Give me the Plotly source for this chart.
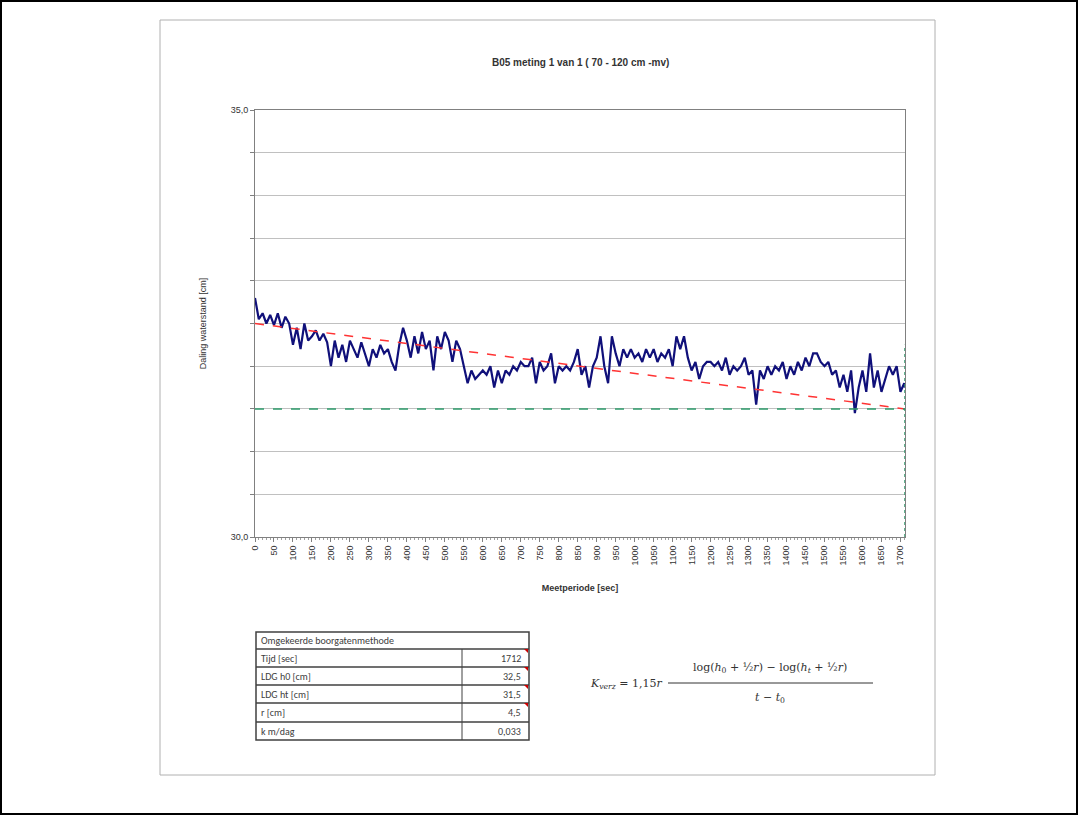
import plotly.graph_objects as go

# meetreeks (tijd in sec, daling waterstand in cm)
tijd = list(range(0, 1711, 10)) + [1712]
daling = [
    32.8, 32.55, 32.62, 32.5, 32.6, 32.48, 32.62, 32.45, 32.58, 32.5,
    32.25, 32.45, 32.2, 32.5, 32.3, 32.35, 32.42, 32.3, 32.38, 32.28,
    32.0, 32.3, 32.1, 32.25, 32.05, 32.3, 32.2, 32.1, 32.28, 32.15,
    32.0, 32.2, 32.1, 32.25, 32.15, 32.2, 32.05, 31.95, 32.25, 32.45,
    32.3, 32.1, 32.35, 32.15, 32.4, 32.2, 32.3, 31.95, 32.35, 32.2,
    32.4, 32.3, 32.05, 32.3, 32.2, 32.0, 31.8, 31.95, 31.85, 31.9,
    31.95, 31.9, 32.0, 31.75, 31.95, 31.8, 31.95, 31.9, 32.0, 31.95,
    32.05, 32.0, 32.0, 32.1, 31.8, 32.05, 31.95, 32.0, 32.15, 31.8,
    32.0, 31.95, 32.0, 31.95, 32.05, 32.2, 31.9, 32.0, 31.75, 32.0,
    32.1, 32.35, 32.0, 31.8, 32.35, 32.15, 32.0, 32.2, 32.1, 32.2,
    32.1, 32.15, 32.05, 32.2, 32.1, 32.2, 32.05, 32.15, 32.1, 32.2,
    32.0, 32.35, 32.2, 32.35, 32.1, 31.95, 32.05, 31.85, 32.0, 32.05,
    32.05, 32.0, 32.05, 31.95, 32.1, 31.9, 32.0, 31.95, 32.0, 32.1,
    31.9, 31.95, 31.55, 31.95, 31.85, 32.0, 31.9, 32.0, 31.95, 32.05,
    31.85, 32.0, 31.9, 32.05, 31.95, 32.1, 32.0, 32.15, 32.15, 32.05,
    32.0, 32.05, 31.9, 31.95, 31.75, 31.9, 31.7, 31.95, 31.45, 31.75,
    31.95, 31.7, 32.15, 31.75, 31.95, 31.7, 31.85, 32.0, 31.9, 32.0,
    31.7, 31.8, 31.75,
]

t_eind = 1712
h0 = 32.5
ht = 31.5
ymax_vert = 32.25

x_ticks = list(range(0, 1701, 50))
y_ticks = [30, 35]
y_ticktext = ["30,0", "35,0"]

tabel_labels = ["Tijd [sec]", "LDG h0 [cm]", "LDG ht [cm]", "r [cm]", "k m/dag"]
tabel_waarden = ["1712", "32,5", "31,5", "4,5", "0,033"]

W, H = 1079, 816
L, R, T, B = 255, 905, 110, 537


def fx(px):
    return (px - L) / (R - L)


def fy(py):
    return (B - py) / (B - T)


fig = go.Figure()

fig.add_trace(go.Scatter(x=tijd, y=daling, mode='lines',
                         line=dict(color='#10107a', width=2.2)))
fig.add_trace(go.Scatter(x=[0, t_eind], y=[h0, ht], mode='lines',
                         line=dict(color='#ff3333', width=1.5, dash='dash')))
fig.add_trace(go.Scatter(x=[0, t_eind], y=[ht, ht], mode='lines',
                         line=dict(color='#2e9b6b', width=1.5, dash='dash')))
fig.add_trace(go.Scatter(x=[t_eind, t_eind], y=[30, ymax_vert], mode='lines',
                         line=dict(color='#2e9b6b', width=1.5, dash='dot')))

font = 'Liberation Sans, Arial, sans-serif'

fig.update_xaxes(range=[0, t_eind], tickvals=x_ticks, tickangle=-90,
                 ticks='outside', ticklen=4, tickcolor='#808080',
                 minor=dict(dtick=10, ticks='outside', ticklen=2, tickcolor='#a0a0a0'),
                 showgrid=False, zeroline=False, showline=True, linecolor='#808080',
                 mirror=True, tickfont=dict(size=9, color='#333333', family=font),
                 title=dict(text='<b>Meetperiode [sec]</b>', standoff=20,
                            font=dict(size=9, color='#333333', family=font)))
fig.update_yaxes(range=[30, 35], tickvals=y_ticks, ticktext=y_ticktext,
                 ticks='outside', ticklen=4, tickcolor='#808080',
                 minor=dict(dtick=0.5, ticks='outside', ticklen=4, tickcolor='#808080',
                            showgrid=True, gridcolor='#c0c0c0', gridwidth=1),
                 showgrid=True, gridcolor='#c0c0c0', zeroline=False, showline=True,
                 linecolor='#808080', mirror=True,
                 tickfont=dict(size=9, color='#333333', family=font),
                 title=dict(text='Daling waterstand [cm]', standoff=22,
                            font=dict(size=9, color='#333333', family=font)))

shapes = []
# buitenkader en grafiekkader
shapes.append(dict(type='rect', xref='paper', yref='paper', x0=fx(1), x1=fx(1077), y0=fy(1), y1=fy(814),
                   line=dict(color='#000000', width=2)))
shapes.append(dict(type='rect', xref='paper', yref='paper', x0=fx(160), x1=fx(935), y0=fy(20), y1=fy(775),
                   line=dict(color='#b0b0b0', width=1)))

# tabel
tx0, tx1, tx2 = 256, 462, 529
rows = [632, 649, 667, 685, 703, 722, 740]
shapes.append(dict(type='rect', xref='paper', yref='paper', x0=fx(tx0), x1=fx(tx2),
                   y0=fy(rows[0]), y1=fy(rows[-1]), line=dict(color='#404040', width=1.5)))
for r in rows[1:-1]:
    shapes.append(dict(type='line', xref='paper', yref='paper', x0=fx(tx0), x1=fx(tx2),
                       y0=fy(r), y1=fy(r), line=dict(color='#404040', width=1.5)))
shapes.append(dict(type='line', xref='paper', yref='paper', x0=fx(tx1), x1=fx(tx1),
                   y0=fy(rows[1]), y1=fy(rows[-1]), line=dict(color='#404040', width=1)))
for r in rows[1:5]:
    px, py = tx2 - 1, r
    shapes.append(dict(type='path', xref='paper', yref='paper',
                       path='M {} {} L {} {} L {} {} Z'.format(fx(px - 4), fy(py), fx(px), fy(py), fx(px), fy(py + 4)),
                       fillcolor='#cc0000', line=dict(color='#cc0000', width=0)))

# breukstreep formule
shapes.append(dict(type='line', xref='paper', yref='paper', x0=fx(668), x1=fx(873),
                   y0=fy(683), y1=fy(683), line=dict(color='#333333', width=1)))

annotations = []
annotations.append(dict(text='<b>B05 meting 1 van 1 ( 70 - 120 cm -mv)</b>', xref='paper', yref='paper',
                        x=fx(580), y=fy(62), showarrow=False, xanchor='center', yanchor='middle',
                        font=dict(size=10, color='#333333', family=font)))
cell_font = dict(size=10, color='#404040', family='Carlito, Liberation Sans, sans-serif')
annotations.append(dict(text='Omgekeerde boorgatenmethode', xref='paper', yref='paper',
                        x=fx(tx0 + 3), y=fy((rows[0] + rows[1]) / 2), showarrow=False,
                        xanchor='left', yanchor='middle', font=cell_font))
for i, (lab, val) in enumerate(zip(tabel_labels, tabel_waarden)):
    yc = fy((rows[i + 1] + rows[i + 2]) / 2)
    annotations.append(dict(text=lab, xref='paper', yref='paper', x=fx(tx0 + 3), y=yc,
                            showarrow=False, xanchor='left', yanchor='middle', font=cell_font))
    annotations.append(dict(text=val, xref='paper', yref='paper', x=fx(tx2 - 6), y=yc,
                            showarrow=False, xanchor='right', yanchor='middle', font=cell_font))

math_font = dict(size=11, color='#333333', family='DejaVu Serif, Liberation Serif, serif')
annotations.append(dict(text='<i>K</i><sub><i>verz</i></sub> = 1,15<i>r</i>', xref='paper', yref='paper',
                        x=fx(665), y=fy(684), showarrow=False, xanchor='right', yanchor='middle',
                        font=math_font))
annotations.append(dict(text='log(<i>h</i><sub>0</sub> + ½<i>r</i>) − log(<i>h</i><sub><i>t</i></sub> + ½<i>r</i>)',
                        xref='paper', yref='paper', x=fx(770), y=fy(668), showarrow=False,
                        xanchor='center', yanchor='middle', font=math_font))
annotations.append(dict(text='<i>t</i> − <i>t</i><sub>0</sub>', xref='paper', yref='paper',
                        x=fx(770), y=fy(698), showarrow=False, xanchor='center', yanchor='middle',
                        font=math_font))

fig.update_layout(width=W, height=H, margin=dict(l=L, r=W - R, t=T, b=H - B),
                  plot_bgcolor='white', paper_bgcolor='white', showlegend=False,
                  shapes=shapes, annotations=annotations)

fig.write_html("out.html", config={'displayModeBar': False},
               post_script="document.body.style.margin='0';")
